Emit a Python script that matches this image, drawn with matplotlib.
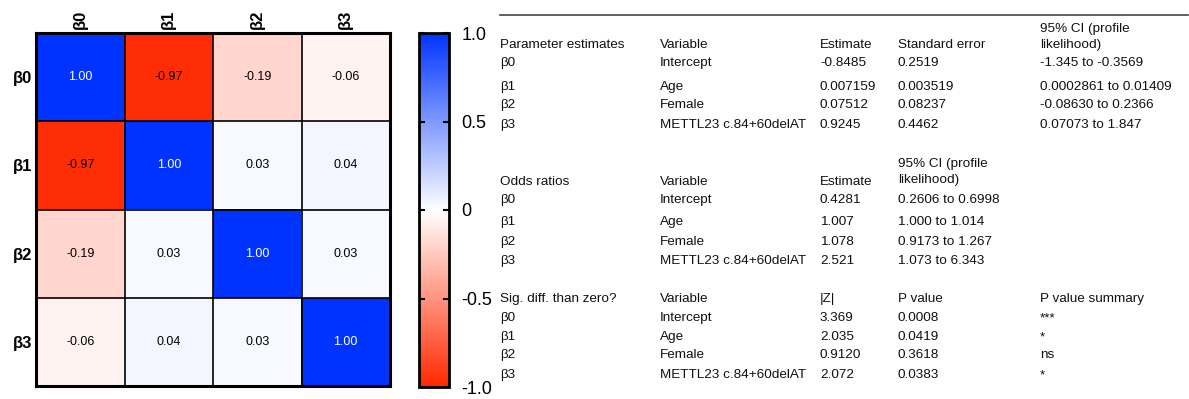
import numpy as np
import matplotlib
matplotlib.use("Agg")
import matplotlib.pyplot as plt
from matplotlib.colors import LinearSegmentedColormap

plt.rcParams['font.family'] = ['Liberation Sans', 'DejaVu Sans']

params = ["β0", "β1", "β2", "β3"]
corr = np.array([
    [1.00, -0.97, -0.19, -0.06],
    [-0.97, 1.00, 0.03, 0.04],
    [-0.19, 0.03, 1.00, 0.03],
    [-0.06, 0.04, 0.03, 1.00],
])
cbar_ticks = [-1.0, -0.5, 0, 0.5, 1.0]
cbar_ticklabels = ["-1.0", "-0.5", "0", "0.5", "1.0"]

variables = ["Intercept", "Age", "Female", "METTL23 c.84+60delAT"]
pe_estimate = ["-0.8485", "0.007159", "0.07512", "0.9245"]
pe_se = ["0.2519", "0.003519", "0.08237", "0.4462"]
pe_ci = ["-1.345 to -0.3569", "0.0002861 to 0.01409", "-0.08630 to 0.2366", "0.07073 to 1.847"]
or_estimate = ["0.4281", "1.007", "1.078", "2.521"]
or_ci = ["0.2606 to 0.6998", "1.000 to 1.014", "0.9173 to 1.267", "1.073 to 6.343"]
z_vals = ["3.369", "2.035", "0.9120", "2.072"]
p_vals = ["0.0008", "0.0419", "0.3618", "0.0383"]
p_summary = ["***", "*", "ns", "*"]

W, H = 1189, 399
fig = plt.figure(figsize=(W / 100, H / 100), dpi=100)

cmap = LinearSegmentedColormap.from_list("rwb", ["#FF2800", "#FFFFFF", "#0033FF"])

def ax_rect(x0, y0, x1, y1):
    return [x0 / W, 1 - y1 / H, (x1 - x0) / W, (y1 - y0) / H]

ax = fig.add_axes(ax_rect(36, 33, 390, 386))
im = ax.imshow(corr, cmap=cmap, vmin=-1, vmax=1, aspect='auto')
n = len(params)
for i in range(n):
    for j in range(n):
        v = corr[i, j]
        col = "white" if v > 0.7 else "black"
        ax.text(j, i, f"{v:.2f}", ha='center', va='center', fontsize=9, color=col)
ax.set_xticks(np.arange(n))
ax.set_yticks(np.arange(n))
ax.set_xticklabels(params, rotation=90, fontsize=12, fontweight='bold')
ax.set_yticklabels(params, fontsize=12, fontweight='bold')
ax.xaxis.tick_top()
ax.tick_params(length=0, pad=3)
ax.set_xticks(np.arange(-0.5, n, 1), minor=True)
ax.set_yticks(np.arange(-0.5, n, 1), minor=True)
ax.grid(which='minor', color='black', linewidth=1.2)
ax.tick_params(which='minor', length=0)
for s in ax.spines.values():
    s.set_linewidth(2.2)

cax = fig.add_axes(ax_rect(419, 33, 449, 387))
cb = fig.colorbar(im, cax=cax, ticks=cbar_ticks)
cb.ax.set_yticklabels(cbar_ticklabels, fontsize=13)
cb.ax.tick_params(direction='in', length=4, width=1.5, left=True, right=True, pad=9)
cb.outline.set_linewidth(2)

# table
fs = 9.7
line = plt.Line2D([500 / W, 1188 / W], [1 - 15 / H, 1 - 15 / H], transform=fig.transFigure,
                  color='#444444', linewidth=1.2)
fig.add_artist(line)

cols = [500, 660, 820, 898, 1040]

def t(x, y, s):
    fig.text(x / W, 1 - y / H, s, fontsize=fs, ha='left', va='center', color='#111111')

# section 1
t(cols[0], 45, "Parameter estimates")
t(cols[1], 45, "Variable")
t(cols[2], 45, "Estimate")
t(cols[3], 45, "Standard error")
t(cols[4], 29, "95% CI (profile")
t(cols[4], 45, "likelihood)")
ys1 = [63, 87, 105, 125]
for k in range(4):
    t(cols[0], ys1[k], params[k])
    t(cols[1], ys1[k], variables[k])
    t(cols[2], ys1[k], pe_estimate[k])
    t(cols[3], ys1[k], pe_se[k])
    t(cols[4], ys1[k], pe_ci[k])

# section 2
t(cols[0], 182, "Odds ratios")
t(cols[1], 182, "Variable")
t(cols[2], 182, "Estimate")
t(cols[3], 164, "95% CI (profile")
t(cols[3], 180, "likelihood)")
ys2 = [200, 222, 242, 261]
for k in range(4):
    t(cols[0], ys2[k], params[k])
    t(cols[1], ys2[k], variables[k])
    t(cols[2], ys2[k], or_estimate[k])
    t(cols[3], ys2[k], or_ci[k])

# section 3
t(cols[0], 299, "Sig. diff. than zero?")
t(cols[1], 299, "Variable")
t(cols[2], 299, "|Z|")
t(cols[3], 299, "P value")
t(cols[4], 299, "P value summary")
ys3 = [318, 337, 355, 375]
for k in range(4):
    t(cols[0], ys3[k], params[k])
    t(cols[1], ys3[k], variables[k])
    t(cols[2], ys3[k], z_vals[k])
    t(cols[3], ys3[k], p_vals[k])
    t(cols[4], ys3[k], p_summary[k])

fig.savefig("out.png", dpi=100)
